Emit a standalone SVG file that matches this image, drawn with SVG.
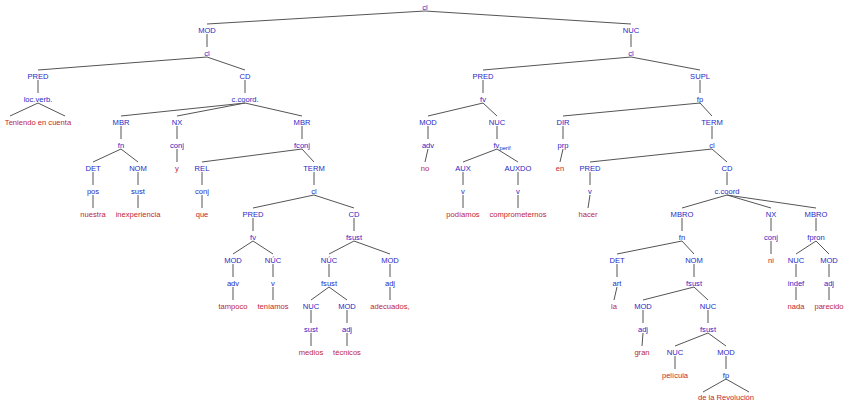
<svg xmlns="http://www.w3.org/2000/svg" width="848" height="405" viewBox="0 0 848 405">
<style>
text{font-family:"Liberation Sans",Arial,sans-serif;font-size:7.6px;text-anchor:middle}
.n{fill:#2828c4}
.w{fill:#c01e36}
#edges line,#edges polyline{stroke:#555;stroke-width:1;fill:none}
</style>
<rect width="848" height="405" fill="#fff"/>
<g id="edges">
<line x1="425" y1="11" x2="207" y2="24"/><line x1="207" y1="34" x2="207" y2="47"/>
<line x1="207" y1="57" x2="38" y2="70"/><line x1="38" y1="80" x2="38" y2="93"/>
<polyline points="10,116 38,103 65,116"/>
<line x1="207" y1="57" x2="245" y2="70"/><line x1="245" y1="80" x2="245" y2="93"/>
<line x1="245" y1="103" x2="121" y2="116"/><line x1="245" y1="103" x2="177" y2="116"/><line x1="245" y1="103" x2="302" y2="116"/>
<line x1="121" y1="126" x2="121" y2="139"/><line x1="121" y1="149" x2="93" y2="162"/><line x1="121" y1="149" x2="138" y2="162"/>
<line x1="93" y1="172" x2="93" y2="185"/><line x1="93" y1="195" x2="93" y2="208"/>
<line x1="138" y1="172" x2="138" y2="185"/><line x1="138" y1="195" x2="138" y2="208"/>
<line x1="177" y1="126" x2="177" y2="139"/><line x1="177" y1="149" x2="177" y2="162"/>
<line x1="302" y1="126" x2="302" y2="139"/><line x1="302" y1="149" x2="202" y2="162"/><line x1="302" y1="149" x2="314" y2="162"/>
<line x1="202" y1="172" x2="202" y2="185"/><line x1="202" y1="195" x2="202" y2="208"/>
<line x1="314" y1="172" x2="314" y2="185"/><line x1="314" y1="195" x2="253" y2="208"/><line x1="314" y1="195" x2="354" y2="208"/>
<line x1="253" y1="218" x2="253" y2="231"/><line x1="253" y1="241" x2="233" y2="254"/><line x1="253" y1="241" x2="273" y2="254"/>
<line x1="233" y1="264" x2="233" y2="277"/><line x1="233" y1="287" x2="233" y2="300"/>
<line x1="273" y1="264" x2="273" y2="277"/><line x1="273" y1="287" x2="273" y2="300"/>
<line x1="354" y1="218" x2="354" y2="231"/><line x1="354" y1="241" x2="329" y2="254"/><line x1="354" y1="241" x2="390" y2="254"/>
<line x1="329" y1="264" x2="329" y2="277"/><line x1="329" y1="287" x2="311" y2="300"/><line x1="329" y1="287" x2="347" y2="300"/>
<line x1="311" y1="310" x2="311" y2="323"/><line x1="311" y1="333" x2="311" y2="346"/>
<line x1="347" y1="310" x2="347" y2="323"/><line x1="347" y1="333" x2="347" y2="346"/>
<line x1="390" y1="264" x2="390" y2="277"/><line x1="390" y1="287" x2="390" y2="300"/>
<line x1="425" y1="11" x2="631" y2="24"/><line x1="631" y1="34" x2="631" y2="47"/>
<line x1="631" y1="57" x2="483" y2="70"/><line x1="631" y1="57" x2="700" y2="70"/>
<line x1="483" y1="80" x2="483" y2="93"/><line x1="483" y1="103" x2="428" y2="116"/><line x1="483" y1="103" x2="497" y2="116"/>
<line x1="428" y1="126" x2="428" y2="139"/><line x1="428" y1="149" x2="425" y2="162"/>
<line x1="497" y1="126" x2="497" y2="139"/><line x1="497" y1="149" x2="463" y2="162"/><line x1="497" y1="149" x2="518" y2="162"/>
<line x1="463" y1="172" x2="463" y2="185"/><line x1="463" y1="195" x2="463" y2="208"/>
<line x1="518" y1="172" x2="518" y2="185"/><line x1="518" y1="195" x2="518" y2="208"/>
<line x1="700" y1="80" x2="700" y2="93"/><line x1="700" y1="103" x2="563" y2="116"/><line x1="700" y1="103" x2="712" y2="116"/>
<line x1="563" y1="126" x2="563" y2="139"/><line x1="563" y1="149" x2="560" y2="162"/>
<line x1="712" y1="126" x2="712" y2="139"/><line x1="712" y1="149" x2="590" y2="162"/><line x1="712" y1="149" x2="727" y2="162"/>
<line x1="590" y1="172" x2="590" y2="185"/><line x1="590" y1="195" x2="588" y2="208"/>
<line x1="727" y1="172" x2="727" y2="185"/>
<line x1="727" y1="195" x2="682" y2="208"/><line x1="727" y1="195" x2="771" y2="208"/><line x1="727" y1="195" x2="816" y2="208"/>
<line x1="682" y1="218" x2="682" y2="231"/><line x1="682" y1="241" x2="617" y2="254"/><line x1="682" y1="241" x2="694" y2="254"/>
<line x1="617" y1="264" x2="617" y2="277"/><line x1="617" y1="287" x2="614" y2="300"/>
<line x1="694" y1="264" x2="694" y2="277"/><line x1="694" y1="287" x2="643" y2="300"/><line x1="694" y1="287" x2="708" y2="300"/>
<line x1="643" y1="310" x2="643" y2="323"/><line x1="643" y1="333" x2="642" y2="346"/>
<line x1="708" y1="310" x2="708" y2="323"/><line x1="708" y1="333" x2="675" y2="346"/><line x1="708" y1="333" x2="726" y2="346"/>
<line x1="675" y1="356" x2="675" y2="369"/><line x1="726" y1="356" x2="726" y2="369"/>
<polyline points="703,392 726,379 749,392"/>
<line x1="771" y1="218" x2="771" y2="231"/><line x1="771" y1="241" x2="771" y2="254"/>
<line x1="816" y1="218" x2="816" y2="231"/><line x1="816" y1="241" x2="796" y2="254"/><line x1="816" y1="241" x2="829" y2="254"/>
<line x1="796" y1="264" x2="796" y2="277"/><line x1="796" y1="287" x2="796" y2="300"/>
<line x1="829" y1="264" x2="829" y2="277"/><line x1="829" y1="287" x2="829" y2="300"/>
</g>
<g id="n0"><text class="n" x="425" y="10">cl</text></g>
<g id="n1"><text class="n" x="207" y="33">MOD</text></g>
<g id="n2"><text class="n" x="207" y="56">cl</text></g>
<g id="n3"><text class="n" x="38" y="79">PRED</text></g>
<g id="n4"><text class="n" x="38" y="102">loc.verb.</text></g>
<g id="n5"><text class="w" x="38" y="125">Teniendo en cuenta</text></g>
<g id="n6"><text class="n" x="245" y="79">CD</text></g>
<g id="n7"><text class="n" x="245" y="102">c.coord.</text></g>
<g id="n8"><text class="n" x="121" y="125">MBR</text></g>
<g id="n9"><text class="n" x="121" y="148">fn</text></g>
<g id="n10"><text class="n" x="93" y="171">DET</text></g>
<g id="n11"><text class="n" x="93" y="194">pos</text></g>
<g id="n12"><text class="w" x="93" y="217">nuestra</text></g>
<g id="n13"><text class="n" x="138" y="171">NOM</text></g>
<g id="n14"><text class="n" x="138" y="194">sust</text></g>
<g id="n15"><text class="w" x="138" y="217">inexperiencia</text></g>
<g id="n16"><text class="n" x="177" y="125">NX</text></g>
<g id="n17"><text class="n" x="177" y="148">conj</text></g>
<g id="n18"><text class="w" x="177" y="171">y</text></g>
<g id="n19"><text class="n" x="302" y="125">MBR</text></g>
<g id="n20"><text class="n" x="302" y="148">fconj</text></g>
<g id="n21"><text class="n" x="202" y="171">REL</text></g>
<g id="n22"><text class="n" x="202" y="194">conj</text></g>
<g id="n23"><text class="w" x="202" y="217">que</text></g>
<g id="n24"><text class="n" x="314" y="171">TERM</text></g>
<g id="n25"><text class="n" x="314" y="194">cl</text></g>
<g id="n26"><text class="n" x="253" y="217">PRED</text></g>
<g id="n27"><text class="n" x="253" y="240">fv</text></g>
<g id="n28"><text class="n" x="233" y="263">MOD</text></g>
<g id="n29"><text class="n" x="233" y="286">adv</text></g>
<g id="n30"><text class="w" x="233" y="309">tampoco</text></g>
<g id="n31"><text class="n" x="273" y="263">NÚC</text></g>
<g id="n32"><text class="n" x="273" y="286">v</text></g>
<g id="n33"><text class="w" x="273" y="309">teníamos</text></g>
<g id="n34"><text class="n" x="354" y="217">CD</text></g>
<g id="n35"><text class="n" x="354" y="240">fsust</text></g>
<g id="n36"><text class="n" x="329" y="263">NÚC</text></g>
<g id="n37"><text class="n" x="329" y="286">fsust</text></g>
<g id="n38"><text class="n" x="311" y="309">NUC</text></g>
<g id="n39"><text class="n" x="311" y="332">sust</text></g>
<g id="n40"><text class="w" x="311" y="355">medios</text></g>
<g id="n41"><text class="n" x="347" y="309">MOD</text></g>
<g id="n42"><text class="n" x="347" y="332">adj</text></g>
<g id="n43"><text class="w" x="347" y="355">técnicos</text></g>
<g id="n44"><text class="n" x="390" y="263">MOD</text></g>
<g id="n45"><text class="n" x="390" y="286">adj</text></g>
<g id="n46"><text class="w" x="390" y="309">adecuados,</text></g>
<g id="n47"><text class="n" x="631" y="33">NUC</text></g>
<g id="n48"><text class="n" x="631" y="56">cl</text></g>
<g id="n49"><text class="n" x="483" y="79">PRED</text></g>
<g id="n50"><text class="n" x="483" y="102">fv</text></g>
<g id="n51"><text class="n" x="428" y="125">MOD</text></g>
<g id="n52"><text class="n" x="428" y="148">adv</text></g>
<g id="n53"><text class="w" x="425" y="171">no</text></g>
<g id="n54"><text class="n" x="497" y="125">NUC</text></g>
<g id="n55"><text class="n" x="493.5" y="148" style="text-anchor:start">fv<tspan font-size="5.8" dy="2">perif</tspan></text></g>
<g id="n56"><text class="n" x="463" y="171">AUX</text></g>
<g id="n57"><text class="n" x="463" y="194">v</text></g>
<g id="n58"><text class="w" x="463" y="217">podíamos</text></g>
<g id="n59"><text class="n" x="518" y="171">AUXDO</text></g>
<g id="n60"><text class="n" x="518" y="194">v</text></g>
<g id="n61"><text class="w" x="518" y="217">comprometernos</text></g>
<g id="n62"><text class="n" x="700" y="79">SUPL</text></g>
<g id="n63"><text class="n" x="700" y="102">fp</text></g>
<g id="n64"><text class="n" x="563" y="125">DIR</text></g>
<g id="n65"><text class="n" x="563" y="148">prp</text></g>
<g id="n66"><text class="w" x="560" y="171">en</text></g>
<g id="n67"><text class="n" x="712" y="125">TERM</text></g>
<g id="n68"><text class="n" x="712" y="148">cl</text></g>
<g id="n69"><text class="n" x="590" y="171">PRED</text></g>
<g id="n70"><text class="n" x="590" y="194">v</text></g>
<g id="n71"><text class="w" x="588" y="217">hacer</text></g>
<g id="n72"><text class="n" x="727" y="171">CD</text></g>
<g id="n73"><text class="n" x="727" y="194">c.coord</text></g>
<g id="n74"><text class="n" x="682" y="217">MBRO</text></g>
<g id="n75"><text class="n" x="682" y="240">fn</text></g>
<g id="n76"><text class="n" x="617" y="263">DET</text></g>
<g id="n77"><text class="n" x="617" y="286">art</text></g>
<g id="n78"><text class="w" x="614" y="309">la</text></g>
<g id="n79"><text class="n" x="694" y="263">NOM</text></g>
<g id="n80"><text class="n" x="694" y="286">fsust</text></g>
<g id="n81"><text class="n" x="643" y="309">MOD</text></g>
<g id="n82"><text class="n" x="643" y="332">adj</text></g>
<g id="n83"><text class="w" x="642" y="355">gran</text></g>
<g id="n84"><text class="n" x="708" y="309">NUC</text></g>
<g id="n85"><text class="n" x="708" y="332">fsust</text></g>
<g id="n86"><text class="n" x="675" y="355">NUC</text></g>
<g id="n87"><text class="w" x="675" y="378">película</text></g>
<g id="n88"><text class="n" x="726" y="355">MOD</text></g>
<g id="n89"><text class="n" x="726" y="378">fp</text></g>
<g id="n90"><text class="w" x="726" y="400">de la Revolución</text></g>
<g id="n91"><text class="n" x="771" y="217">NX</text></g>
<g id="n92"><text class="n" x="771" y="240">conj</text></g>
<g id="n93"><text class="w" x="771" y="263">ni</text></g>
<g id="n94"><text class="n" x="816" y="217">MBRO</text></g>
<g id="n95"><text class="n" x="816" y="240">fpron</text></g>
<g id="n96"><text class="n" x="796" y="263">NUC</text></g>
<g id="n97"><text class="n" x="796" y="286">indef</text></g>
<g id="n98"><text class="w" x="796" y="309">nada</text></g>
<g id="n99"><text class="n" x="829" y="263">MOD</text></g>
<g id="n100"><text class="n" x="829" y="286">adj</text></g>
<g id="n101"><text class="w" x="829" y="309">parecido</text></g>
</svg>
